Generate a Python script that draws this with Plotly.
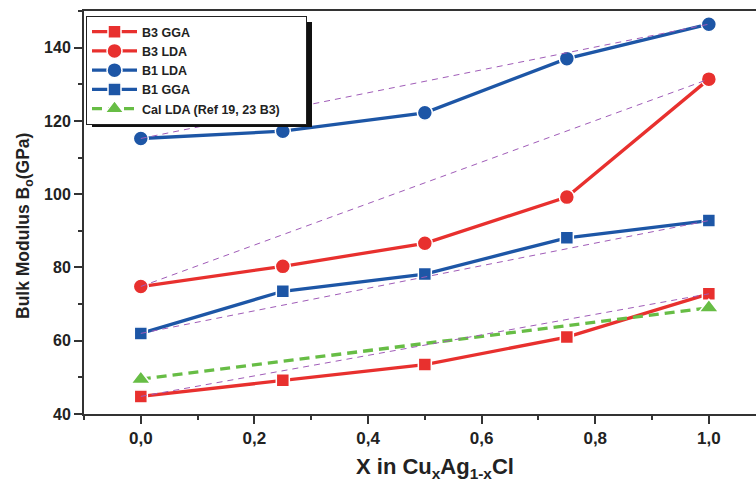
import plotly.graph_objects as go

x = [0.0, 0.25, 0.5, 0.75, 1.0]
b3_gga = [44.8, 49.2, 53.5, 61.0, 72.8]
b3_lda = [74.8, 80.3, 86.6, 99.2, 131.4]
b1_lda = [115.2, 117.2, 122.2, 137.0, 146.4]
b1_gga = [62.0, 73.5, 78.2, 88.1, 92.8]
cal_x = [0.0, 1.0]
cal_lda = [49.5, 69.0]

RED = "#e8302e"
BLUE = "#1d56a6"
GREEN = "#67bd45"
PURPLE = "#a05cb8"

L, T, B = 84, 11, 68
W, H = 756, 482
PW, PH = W - L, H - T - B


def px(xp):
    return (xp - L) / PW


def py(yp):
    return 1 - (yp - T) / PH


fig = go.Figure()

NB = "\u00a0" * 6
series = [
    ("B3 GGA", b3_gga, RED, "square", 13, x, "solid"),
    ("B3 LDA", b3_lda, RED, "circle", 15, x, "solid"),
    ("B1 LDA", b1_lda, BLUE, "circle", 15, x, "solid"),
    ("B1 GGA", b1_gga, BLUE, "square", 13, x, "solid"),
    ("Cal LDA (Ref 19, 23 B3)" + NB, cal_lda, GREEN, "triangle-up", 17, cal_x, "10px,6px"),
]
for name, ys, col, sym, sz, xs, dash in series:
    fig.add_trace(go.Scatter(x=xs, y=ys, mode="lines+markers", name=name,
                             line=dict(color=col, width=3.3, dash=dash),
                             marker=dict(color=col, symbol=sym, size=sz,
                                         line=dict(color="white", width=1.5))))

# Vegard-law reference lines (endpoints of each series), drawn on top
for s in [b1_lda, b3_lda, b1_gga, b3_gga]:
    fig.add_trace(go.Scatter(x=[x[0], x[-1]], y=[s[0], s[-1]], mode="lines",
                             line=dict(color=PURPLE, width=1, dash="6px,5px"),
                             showlegend=False, hoverinfo="skip"))

# legend drop shadow
fig.add_shape(type="rect", xref="paper", yref="paper",
              x0=px(92), x1=px(312), y0=py(127), y1=py(22),
              fillcolor="#111111", line=dict(width=0), layer="above")

fig.add_annotation(text="X in Cu<sub>x</sub>Ag<sub>1-x</sub>Cl", xref="paper", yref="paper",
                   x=px(435), y=py(482), xanchor="center", yanchor="bottom", yshift=-2,
                   showarrow=False, font=dict(size=22, weight="bold", color="#222"))
fig.add_annotation(text="Bulk Modulus B<sub>o</sub>(GPa)", xref="paper", yref="paper",
                   x=px(24), y=py(226), xanchor="center", yanchor="middle", textangle=-90,
                   showarrow=False, font=dict(size=17.5, weight="bold", color="#222"))

fig.update_layout(
    width=W, height=H,
    margin=dict(l=L, r=0, t=T, b=B, autoexpand=False),
    paper_bgcolor="white", plot_bgcolor="white",
    font=dict(family="Liberation Sans, Arial, sans-serif", color="#222222"),
    showlegend=True,
    legend=dict(x=px(86), y=py(16), xanchor="left", yanchor="top",
                bgcolor="white", bordercolor="#222222", borderwidth=1,
                font=dict(size=12.5, family="Liberation Sans, Arial", weight="bold"),
                tracegroupgap=0, itemsizing="trace", itemwidth=45),
    xaxis=dict(range=[-0.1, 1.083], tickvals=[0, 0.2, 0.4, 0.6, 0.8, 1.0],
               ticktext=["0,0", "0,2", "0,4", "0,6", "0,8", "1,0"],
               ticks="outside", ticklen=8, tickwidth=1.5, tickcolor="#333",
               minor=dict(dtick=0.1, tick0=0, ticks="outside", ticklen=4, tickcolor="#333"),
               showline=True, linecolor="#333", linewidth=2, mirror=True,
               showgrid=False, zeroline=False, automargin=False,
               tickfont=dict(size=17, weight="bold")),
    yaxis=dict(range=[40, 150], tickvals=[40, 60, 80, 100, 120, 140],
               ticks="outside", ticklen=8, tickwidth=1.5, tickcolor="#333",
               minor=dict(dtick=10, tick0=40, ticks="outside", ticklen=4, tickcolor="#333"),
               showline=True, linecolor="#333", linewidth=2, mirror=False,
               showgrid=False, zeroline=False, automargin=False,
               tickfont=dict(size=16, weight="bold")),
)

fig.write_html("out.html", config={"displayModeBar": False},
               post_script="document.body.style.margin='0';")
